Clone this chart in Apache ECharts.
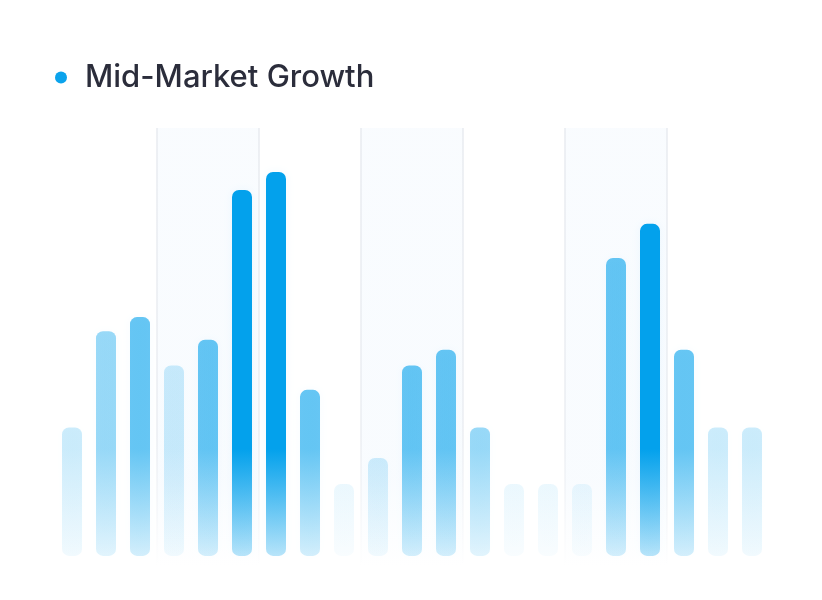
<!DOCTYPE html>
<html>
<head>
<meta charset="utf-8">
<title>Mid-Market Growth</title>
<script src="https://cdn.jsdelivr.net/npm/echarts@6/dist/echarts.min.js"></script>
<style>
  html, body { margin: 0; padding: 0; background: #fff; }
  #main { width: 822px; height: 600px; }
</style>
</head>
<body>
<div id="main"></div>
<script>
const weeks = ['W01', 'W02', 'W03', 'W04', 'W05', 'W06', 'W07', 'W08', 'W09', 'W10', 'W11',
               'W12', 'W13', 'W14', 'W15', 'W16', 'W17', 'W18', 'W19', 'W20', 'W21'];
const growth = [30, 52.5, 55.8, 44.5, 50.5, 85.5, 89.7, 38.8, 16.8, 22.9, 44.5, 48.2,
                30, 16.8, 16.8, 16.8, 69.6, 77.6, 48.2, 30, 30];
// how strongly each week is highlighted (0 = faint ... 4 = peak)
const intensity = [1, 2, 3, 1, 3, 4, 4, 3, 0, 1, 3, 3, 2, 0, 0, 0, 3, 4, 3, 1, 1];

const blue = [3, 161, 236];
const tierAlpha = [0.1, 0.2, 0.4, 0.6, 1];

// layout of the plot area, used to place the global gradients
const gridTop = 128;
const gridBottom = 33;
const yMin = -2.6;
const yMax = 100;
const plotBottom = 600 - gridBottom;
function toY(v) {
    return plotBottom - (v - yMin) / (yMax - yMin) * (plotBottom - gridTop);
}

function rgba(a) {
    return 'rgba(' + blue.join(',') + ',' + a + ')';
}

function barColor(params) {
    let a = tierAlpha[intensity[params.dataIndex]];
    return new echarts.graphic.LinearGradient(0, toY(25), 0, toY(0), [
        { offset: 0, color: rgba(a) },
        { offset: 1, color: rgba(a * 0.28) }
    ], true);
}

let lineFade = new echarts.graphic.LinearGradient(0, gridTop, 0, plotBottom, [
    { offset: 0, color: 'rgba(232,235,240,1)' },
    { offset: 0.7, color: 'rgba(232,235,240,0.85)' },
    { offset: 1, color: 'rgba(232,235,240,0)' }
], true);

let areaFade = new echarts.graphic.LinearGradient(0, gridTop, 0, plotBottom, [
    { offset: 0, color: 'rgba(244,249,254,0.55)' },
    { offset: 0.8, color: 'rgba(244,249,254,0.6)' },
    { offset: 1, color: 'rgba(244,249,254,0)' }
], true);

const everyThird = function (index) { return index % 3 === 0; };

let option = {
    backgroundColor: '#ffffff',
    animation: false,
    legend: {
        left: 50,
        top: 57,
        icon: 'circle',
        itemWidth: 12,
        itemHeight: 12,
        textStyle: {
            fontFamily: 'Inter',
            fontSize: 31,
            fontWeight: 500,
            color: '#2b2d3b',
            padding: [0, 0, 0, 13]
        },
        data: [{ name: 'Mid-Market Growth', itemStyle: { color: '#0ba3ec' } }]
    },
    grid: { left: 55, right: 53, top: gridTop, bottom: gridBottom },
    xAxis: {
        type: 'category',
        data: weeks,
        boundaryGap: true,
        axisLine: { show: false },
        axisTick: { show: false },
        axisLabel: { show: false },
        splitLine: {
            show: true,
            interval: everyThird,
            showMinLine: false,
            showMaxLine: false,
            lineStyle: { color: lineFade, width: 1.5 }
        },
        splitArea: {
            show: true,
            interval: everyThird,
            areaStyle: { color: ['rgba(255,255,255,0)', areaFade] }
        }
    },
    yAxis: {
        type: 'value',
        min: yMin,
        max: yMax,
        show: false,
        splitLine: { show: false }
    },
    series: [{
        name: 'Mid-Market Growth',
        type: 'bar',
        data: growth,
        barWidth: 20,
        itemStyle: {
            color: barColor,
            borderRadius: 7,
            shadowBlur: 8,
            shadowColor: 'rgba(3,161,236,0.06)'
        }
    }]
};

let chart = echarts.init(document.getElementById('main'));
chart.setOption(option);
</script>
</body>
</html>
